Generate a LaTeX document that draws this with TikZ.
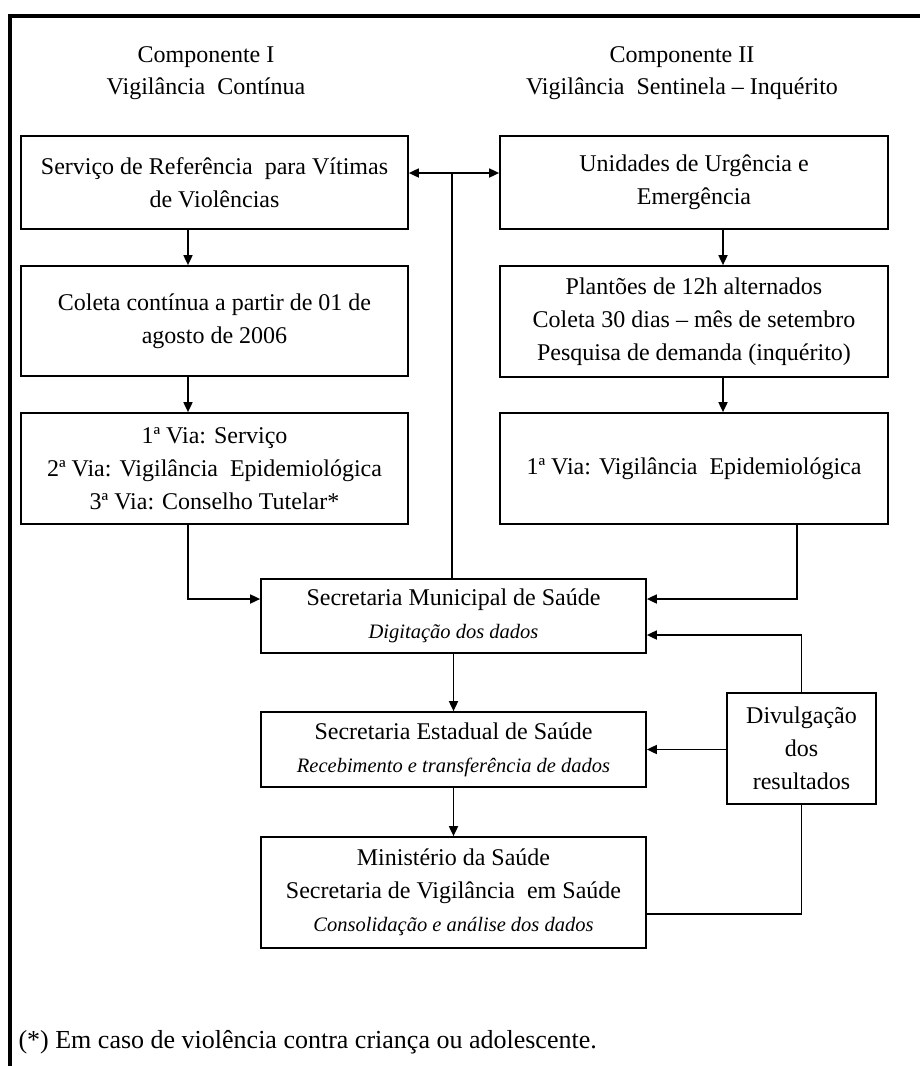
\documentclass[tikz,border=0pt]{standalone}
\usepackage{fontspec}
\setmainfont{Liberation Serif}
\usetikzlibrary{arrows.meta,calc}
\tikzset{
  box/.style={draw=black, line width=1.7pt, align=center, inner sep=0pt,
    font=\fontsize{24}{33}\selectfont},
  arr/.style={line width=1.7pt, -{Triangle[length=10pt,width=9pt]}},
  ln/.style={line width=1.7pt},
  ttl/.style={align=center, font=\fontsize{24}{32}\selectfont},
}
\newcommand{\sub}[1]{{\fontsize{20.5}{30}\selectfont\itshape #1}}
\begin{document}
\begin{tikzpicture}[x=1pt,y=-1pt]
\useasboundingbox (0,0) rectangle (920,1066);
% frame
\draw[line width=4pt] (920,16) -- (10,16) -- (10,1066);
% titles
\node[ttl] (t1) at (206,73) {Componente I\\Vigilância\ \ Contínua};
\node[ttl] (t2) at (682,73) {Componente II\\Vigilância\ \ Sentinela -- Inquérito};
% left column
\node[box, minimum width=387, minimum height=93] (b1) at (214.5,182.5)
  {\raisebox{7pt}{\parbox{380pt}{\centering Serviço de Referência\ \ para Vítimas\\de Violências}}};
\node[box, minimum width=387, minimum height=110] (b2) at (214.5,321)
  {\raisebox{16pt}{\parbox{380pt}{\centering Coleta contínua a partir de 01 de\\agosto de 2006}}};
\node[box, minimum width=387, minimum height=111] (b3) at (214.5,468.5)
  {1ª Via: Serviço\\2ª Via: Vigilância\ \ Epidemiológica\\3ª Via: Conselho Tutelar*};
% right column
\node[box, minimum width=388, minimum height=93] (b4) at (694,182.5)
  {\raisebox{7pt}{\parbox{380pt}{\centering Unidades de Urgência e\\Emergência}}};
\node[box, minimum width=388, minimum height=111] (b5) at (694,321.5)
  {Plantões de 12h alternados\\Coleta 30 dias -- mês de setembro\\Pesquisa de demanda (inquérito)};
\node[box, minimum width=388, minimum height=111] (b6) at (694,468.5)
  {1ª Via: Vigilância\ \ Epidemiológica};
% central column
\node[box, minimum width=385, minimum height=74] (sms) at (453.5,616)
  {Secretaria Municipal de Saúde\\\sub{Digitação dos dados}};
\node[box, minimum width=385, minimum height=75] (ses) at (453.5,749.5)
  {Secretaria Estadual de Saúde\\\sub{Recebimento e transferência de dados}};
\node[box, minimum width=385, minimum height=111] (min) at (453.5,892.5)
  {Ministério da Saúde\\Secretaria de Vigilância\ \ em Saúde\\\sub{Consolidação e análise dos dados}};
\node[box, minimum width=149, minimum height=111] (div) at (801.5,748.5)
  {Divulgação\\dos\\resultados};
% footnote
\node[anchor=west, font=\fontsize{26}{30}\selectfont] (fn) at (15,1042)
  {(*) Em caso de violência contra criança ou adolescente.};
% column coordinates
\coordinate (cL) at (188,0);
\coordinate (cR) at (723,0);
\coordinate (cD) at (797,0);
\coordinate (j) at (452,173);
% connectors
\draw[arr] (b1.south -| cL) -- (b2.north -| cL);
\draw[arr] (b2.south -| cL) -- (b3.north -| cL);
\draw[arr] (b4.south -| cR) -- (b5.north -| cR);
\draw[arr] (b5.south -| cR) -- (b6.north -| cR);
\draw[arr] (b3.south -| cL) |- ([yshift=17pt]sms.west);
\draw[arr] (b6.south -| cD) |- ([yshift=17pt]sms.east);
\draw[ln] (sms.north -| j) -- (j);
\draw[arr] (j) -- (b1.east |- j);
\draw[arr] (j) -- (b4.west |- j);
\draw[arr] (sms.south) -- (ses.north);
\draw[arr] (ses.south) -- (min.north);
\draw[arr] (div.north) |- ([yshift=-19pt]sms.east);
\draw[arr] (div.west |- ses.east) -- (ses.east);
\draw[ln] ([yshift=-21.5pt]min.east) -| (div.south);
\end{tikzpicture}
\end{document}
